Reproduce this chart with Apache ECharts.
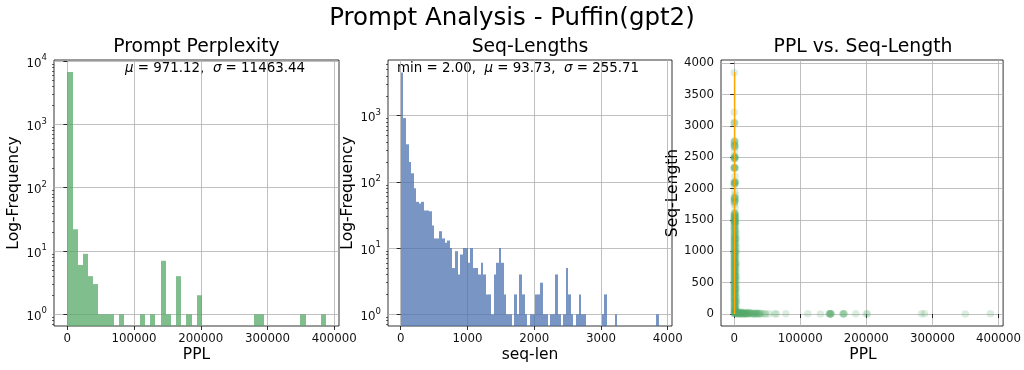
<!DOCTYPE html>
<html><head><meta charset="utf-8">
<script src="https://cdn.jsdelivr.net/npm/echarts@6/dist/echarts.min.js"></script>
<style>html,body{margin:0;padding:0;background:#fff}#c{width:1024px;height:370px}</style>
</head><body><div id="c"></div>
<script>
// ---------------- data ----------------
const suptitle = 'Prompt Analysis - Puffin(gpt2)';
const panelTitles = ['Prompt Perplexity', 'Seq-Lengths', 'PPL vs. Seq-Length'];
const xNames = ['PPL', 'seq-len', 'PPL'];
const yNames = ['Log-Frequency', 'Log-Frequency', 'Seq-Length'];
const pplStats = { mean: '971.12', std: '11463.44' };
const seqStats = { min: '2.00', mean: '93.73', std: '255.71' };

// PPL histogram: 50 bins
const pplBinStart = 0, pplBinWidth = 7760;
const pplCounts = [6700,22,6,9,4,3,1,1,1,0,
                   1,0,0,0,1,0,1,0,7,1,
                   0,4,0,1,0,2,0,0,0,0,
                   0,0,0,0,0,0,1,1,0,0,
                   0,0,0,0,0,1,0,0,0,1];
// Seq-length histogram: 100 bins
const seqBinStart = 2, seqBinWidth = 38.6;
const seqCounts = [4500,920,370,200,135,80,50,47,50,37,
                   37,36,22,14,14,18,14,12,13,10,
                   5,9,4,8,10,10,6,10,5,5,
                   4,6,4,2,2,1,4,6,10,6,
                   2,1,1,0,2,1,4,2,1,0,
                   1,1,2,2,3,1,1,0,1,1,
                   4,1,0,1,5,2,1,0,1,2,
                   1,1,0,0,0,0,0,0,1,2,
                   0,0,0,1,0,0,0,0,0,0,
                   0,0,0,0,0,0,0,0,0,1];

const pplTicks = [0,100000,200000,300000,400000];
const seqTicks = [0,1000,2000,3000,4000];
const logTicksPPL = [1,10,100,1000,10000];
const logTicksSeq = [1,10,100,1000];
const seqLenTicks = [0,500,1000,1500,2000,2500,3000,3500,4000];

// scatter points [PPL, seq-len]
const scatterPoints = [
 [40,3850],[25,3220],[60,3060],[30,3040],[80,2760],[45,2740],[20,2700],[110,2680],[35,2660],
 [50,2520],[70,2500],[28,2490],[90,2470],[40,2340],[65,2330],[22,2320],[55,2110],[38,2095],
 [120,2080],[45,2050],[33,1860],[75,1850],[26,1820],[48,1800],[95,1780],[30,1610],[52,1590],
 [41,1570],[140,1550],[36,1530],[58,1510],[27,1495],[88,1485],[44,1470],[31,1455],[66,1420],
 [50,1390],[39,1370],[24,1340],[72,1320],[47,1290],[35,1260],[160,1240],[29,1220],[55,1195],
 [42,1170],[80,1150],[33,1130],[61,1105],[38,1085],[27,1060],[100,1040],[45,1015],[31,1000],
 [53,985],[70,960],[36,940],[28,920],[90,900],[44,880],[57,860],[33,840],[130,820],[40,800],
 [25,780],[62,760],[48,740],[35,720],[85,700],[30,680],[52,660],[41,640],[200,620],[27,600],
 [66,580],[38,560],[49,540],[31,520],[75,500],[44,480],[36,460],[250,440],[29,420],[58,400],
 [40,380],[33,360],[95,340],[47,320],[26,300],[61,280],[39,260],[180,240],[34,220],[70,200],
 [43,180],[300,160],[30,140],[55,120],[800,100],[38,90],[420,80],[1200,60],[25,50],[650,40],
 [90,30],[1500,20],[350,10],[60,5],
 [900,2750],[1300,2680],[700,2500],[1100,2480],[850,2330],[1400,2100],[600,2090],[1000,1850],
 [1600,1800],[750,1600],[1250,1560],[500,1520],[1800,1480],[950,1460],[1150,1440],[400,1400],
 [1700,1380],[650,1350],[1350,1310],[850,1280],[1900,1250],[450,1230],[1050,1200],[1550,1180],
 [700,1160],[1250,1120],[2000,1100],[550,1080],[1450,1050],[900,1020],[1750,990],[350,970],
 [1150,950],[2100,930],[600,910],[1350,890],[800,870],[1650,850],[450,830],[1950,810],
 [1050,790],[700,770],[1500,750],[2200,730],[500,710],[1250,690],[900,670],[1800,650],
 [400,630],[1400,610],[650,590],[2000,570],[1100,550],[750,530],[1600,510],[350,490],
 [1300,470],[2300,450],[850,430],[1550,410],[600,390],[1850,370],[1000,350],[450,330],
 [1700,310],[2400,290],[800,270],[1200,250],[550,230],[1900,210],[1050,190],[2500,170],
 [700,150],[1400,130],[950,110],[2200,90],[500,70],[1750,50],[1100,30],[2600,15],[300,8],
 [2800,1290],[3100,1210],[2600,1130],[3300,1060],[2900,980],[2500,900],[3200,820],[2700,750],
 [3000,680],[2600,610],[3400,540],[2800,470],[3100,400],[2500,330],[3300,260],[2900,190],
 [2700,120],[3200,60],[2400,1340],[2200,1200],[2600,1000],[2300,800],[2700,600],[2100,400],
 [2500,200],[1500,1530],[2200,1470],[1900,1560],[1200,1600],[2400,1520],[1700,1610],[900,1570],
 [1300,1460],[2000,1420],[600,1480],[1100,1800],[1800,1840],[700,1860],[1300,2080],[2000,2110],
 [900,2100],[1500,2330],[500,2340],[1000,2500],[1600,2510],[400,2490],[1500,2670],[700,2700],
 [1100,2760],[900,3050],[1400,1700],[400,1750],[1900,1900],[800,1950],[1200,2200],[600,2600],
 [2500,12],[3500,8],[4500,15],[5500,6],[6500,10],[7500,4],[8500,18],[9500,7],[10500,3],
 [11500,12],[12500,5],[13500,9],[14500,4],[15500,14],[16500,6],[17500,3],[18500,8],[19500,5],
 [21000,11],[22500,4],[24000,7],[25000,3],[26500,9],[28000,5],[29500,4],[31000,6],[32500,3],
 [34000,8],[36000,4],[38000,5],[40500,3],[43000,6],[46500,4],[47500,2],[53000,3],[61500,5],
 [64000,2],[78000,3],[111400,4],[130400,2],[143500,3],[144500,5],[145200,2],[145800,4],
 [146300,3],[146800,6],[145000,2],[164500,3],[165200,5],[165800,2],[166300,4],[183900,3],
 [199900,4],[201500,2],[283500,3],[288000,5],[349800,2],[387800,3],
 [3000,20],[5000,25],[7000,22],[9000,28],[11000,18],[13000,24],[16000,20],[20000,15],[23000,22],
 [4000,30],[6000,2],[8000,26],[10000,2],[12000,30],[14000,2],[17000,26],[19000,2],[22000,30],
 [27000,20],[30000,2],[33000,22],[35000,10],[37000,2],[39000,16]
];
// orange line [PPL, seq-len]
const linePoints = [[600,3860],[600,0]];

// ---------------- styling / layout ----------------
const FONT = 'DejaVu Sans';
const TXT = '#111';
const GRID_COLOR = '#b0b0b0';
const grids = [
  {left: 54, top: 60, width: 285, height: 266},
  {left: 388, top: 60, width: 284, height: 266},
  {left: 721, top: 60, width: 284, height: 266}
];
const yRange = [[0.6533, 10373], [0.6663, 6937], [-191, 4053]];
const xRange = [[-20000, 407000], [-190, 4064], [-20000, 407000]];
const TICK_FS = 11.8;

function minorLog(lo, hi) {
  const out = [];
  for (let e = -1; e <= 4; e++) for (let m = 2; m <= 9; m++) {
    const v = m * Math.pow(10, e);
    if (v >= lo && v <= hi) out.push(v);
  }
  return out;
}
const logFmt = v => '{b|10}{s|' + Math.round(Math.log10(v)) + '}';
const labelBase = {fontFamily: FONT, fontSize: TICK_FS, color: TXT};

function xAxisDef(i, ticks) {
  return {
    gridIndex: i, type: 'value', min: xRange[i][0], max: xRange[i][1],
    axisLine: {show: false},
    axisTick: {show: true, length: 4, customValues: ticks, lineStyle: {color: '#000', width: 0.8}},
    axisLabel: Object.assign({customValues: ticks, margin: 7, formatter: v => String(v)}, labelBase),
    splitLine: {show: true, lineStyle: {color: GRID_COLOR, width: 0.8}}
  };
}
function yLogDef(i, ticks) {
  return {
    gridIndex: i, type: 'log', logBase: 10, min: yRange[i][0], max: yRange[i][1],
    axisLine: {show: false},
    axisTick: {show: true, length: 4, customValues: ticks, lineStyle: {color: '#000', width: 0.8}},
    axisLabel: Object.assign({customValues: ticks, margin: 7, formatter: logFmt,
      rich: {b: {fontFamily: FONT, fontSize: TICK_FS, color: TXT, padding: [5,0,0,0]},
             s: {fontFamily: FONT, fontSize: 8.5, color: TXT, padding: [0,0,6,0]}}}, labelBase),
    splitLine: {show: true, lineStyle: {color: GRID_COLOR, width: 0.8}}
  };
}
function yMinorDef(i) {
  const mv = minorLog(yRange[i][0], yRange[i][1]);
  return {
    gridIndex: i, type: 'log', logBase: 10, min: yRange[i][0], max: yRange[i][1], position: 'left',
    axisLine: {show: false},
    axisTick: {show: true, length: 2, customValues: mv, lineStyle: {color: '#000', width: 0.6}},
    axisLabel: {show: false}, splitLine: {show: false}
  };
}

function histSeries(counts, start, width, xIdx, yIdx, fill, yMin) {
  const data = [];
  counts.forEach((c, i) => { if (c > 0) data.push([start + i * width, start + (i + 1) * width, c]); });
  return {
    type: 'custom', xAxisIndex: xIdx, yAxisIndex: yIdx, clip: true,
    encode: {x: [0, 1], y: 2}, data,
    renderItem(params, api) {
      const p0 = api.coord([api.value(0), api.value(2)]);
      const p1 = api.coord([api.value(1), yMin]);
      const xa = Math.round(p0[0]), xb = Math.round(p1[0]);
      return {type: 'rect',
        shape: {x: xa, y: p0[1], width: Math.max(1, xb - xa), height: p1[1] - p0[1]},
        style: {fill: fill}};
    }
  };
}

const graphics = [];
graphics.push({type: 'text', x: 512, y: 19, style: {text: suptitle, fontFamily: FONT, fontSize: 24.5, fill: '#000', align: 'center', verticalAlign: 'middle'}});
grids.forEach((g, i) => {
  const cx = g.left + g.width / 2;
  graphics.push({type: 'text', x: cx, y: 47, style: {text: panelTitles[i], fontFamily: FONT, fontSize: 18.8, fill: '#000', align: 'center', verticalAlign: 'middle'}});
  graphics.push({type: 'text', x: cx, y: 355, style: {text: xNames[i], fontFamily: FONT, fontSize: 15.5, fill: '#000', align: 'center', verticalAlign: 'middle'}});
});
const yNameX = [14, 347.5, 673];
yNames.forEach((n, i) => {
  graphics.push({type: 'text', x: yNameX[i], y: 193, rotation: Math.PI / 2,
    style: {text: n, fontFamily: FONT, fontSize: 15.5, fill: '#000', align: 'center', verticalAlign: 'middle'}});
});
const ANN_FS = 13.4;
const annRich = {i: {fontFamily: FONT, fontSize: ANN_FS, fontStyle: 'italic', fill: '#000'},
                 n: {fontFamily: FONT, fontSize: ANN_FS, fill: '#000'}};
graphics.push({type: 'text', x: 125, y: 68.5, style: {
  text: '{i|μ}{n| = ' + pplStats.mean + ',  }{i|σ}{n| = ' + pplStats.std + '}',
  rich: annRich, fontFamily: FONT, fontSize: ANN_FS, fill: '#000', align: 'left', verticalAlign: 'middle'}});
graphics.push({type: 'text', x: 397, y: 68.5, style: {
  text: '{n|min = ' + seqStats.min + ',  }{i|μ}{n| = ' + seqStats.mean + ',  }{i|σ}{n| = ' + seqStats.std + '}',
  rich: annRich, fontFamily: FONT, fontSize: ANN_FS, fill: '#000', align: 'left', verticalAlign: 'middle'}});

const option = {
  animation: false,
  backgroundColor: '#fff',
  grid: grids.map(g => Object.assign({show: true, borderColor: '#000', borderWidth: 0.8, backgroundColor: 'transparent'}, g)),
  xAxis: [xAxisDef(0, pplTicks), xAxisDef(1, seqTicks), xAxisDef(2, pplTicks)],
  yAxis: [
    yLogDef(0, logTicksPPL), yMinorDef(0),
    yLogDef(1, logTicksSeq), yMinorDef(1),
    {
      gridIndex: 2, type: 'value', min: yRange[2][0], max: yRange[2][1],
      axisLine: {show: false},
      axisTick: {show: true, length: 4, customValues: seqLenTicks, lineStyle: {color: '#000', width: 0.8}},
      axisLabel: Object.assign({customValues: seqLenTicks, margin: 7, formatter: v => String(v)}, labelBase),
      splitLine: {show: true, lineStyle: {color: GRID_COLOR, width: 0.8}}
    }
  ],
  series: [
    histSeries(pplCounts, pplBinStart, pplBinWidth, 0, 0, 'rgba(85,168,104,0.75)', yRange[0][0]),
    histSeries(seqCounts, seqBinStart, seqBinWidth, 1, 2, 'rgba(76,114,176,0.75)', yRange[1][0]),
    {type: 'scatter', xAxisIndex: 2, yAxisIndex: 4, data: scatterPoints, symbolSize: 7.5,
     itemStyle: {color: '#55a868', opacity: 0.2}, clip: true},
    {type: 'line', xAxisIndex: 2, yAxisIndex: 4, data: linePoints, showSymbol: false, symbol: 'none',
     lineStyle: {color: '#ffa500', width: 1.5}, z: 5}
  ],
  graphic: graphics
};
const chart = echarts.init(document.getElementById('c'), null, {renderer: 'canvas'});
chart.setOption(option);
</script></body></html>
